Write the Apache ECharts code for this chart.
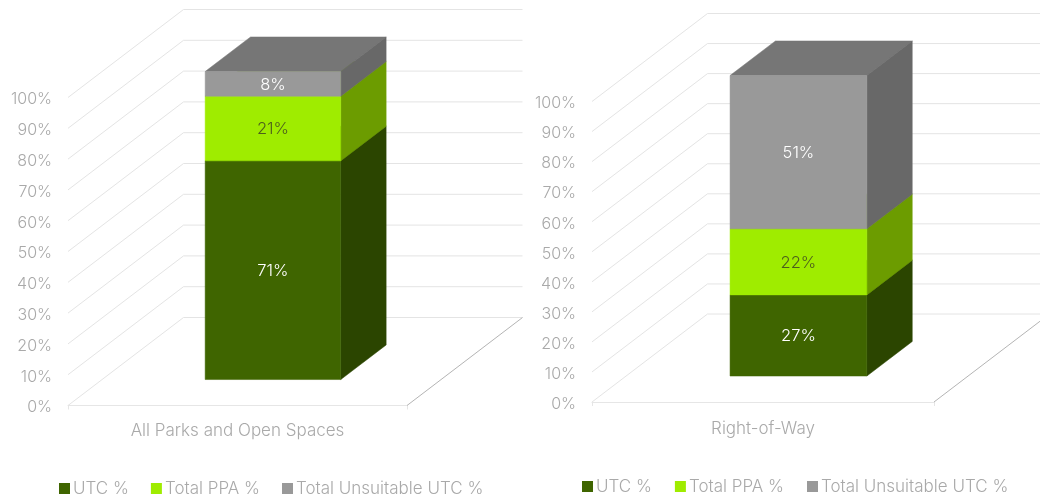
<!DOCTYPE html>
<html>
<head>
<meta charset="utf-8">
<style>
  html, body { margin: 0; padding: 0; background: #fff; }
  #main { width: 1040px; height: 495px; }
</style>
<script src="https://cdn.jsdelivr.net/npm/echarts@6/dist/echarts.min.js"></script>
</head>
<body>
<div id="main"></div>
<script>
const seriesNames = ['UTC %', 'Total PPA %', 'Total Unsuitable UTC %'];
const yTicks = [0, 10, 20, 30, 40, 50, 60, 70, 80, 90, 100];

const leftCategories = ['All Parks and Open Spaces'];
const leftUtc = [71];
const leftPpa = [21];
const leftUnsuitable = [8];

const rightCategories = ['Right-of-Way'];
const rightUtc = [27];
const rightPpa = [22];
const rightUnsuitable = [51];

const fontName = 'Inter, "Open Sans", sans-serif';
const axisColor = '#a9a9a9';

// front, side and top shades of each stack
const shades = [
  { front: '#3f6500', side: '#2b4500', top: '#335200', label: '#ffffff' },
  { front: '#9fec00', side: '#6c9c00', top: '#84c400', label: '#4d5f1c' },
  { front: '#999999', side: '#686868', top: '#767676', label: '#ffffff' }
];

// 3D look: how far the back wall sits from the front of the floor
const wallDx = 115.5;
const wallDy = 88;
const barNearX = 0.307;
const barNearY = 0.295;
const barFar = 0.70;
const barBand = 0.4;

function shift(p, depth) {
  return [p[0] + depth * wallDx, p[1] - depth * wallDy];
}

function barFront(x, y) {
  return [x + barNearX * wallDx, y - barNearY * wallDy];
}

function poly(points, color) {
  return { type: 'polygon', shape: { points: points }, style: { fill: color, stroke: color, lineWidth: 0.5 } };
}

function line(a, b, color) {
  return {
    type: 'line',
    shape: { x1: a[0], y1: a[1], x2: b[0], y2: b[1] },
    style: { stroke: color, lineWidth: 1, fill: null }
  };
}

function renderWall(params, api) {
  const cs = params.coordSys;
  const v = api.value(0);
  const y = api.coord([0, v])[1];
  const a = [cs.x, y];
  const b = shift(a, 1);
  const c = [b[0] + cs.width, b[1]];
  const kids = [line(a, b, '#e4e4e4'), line(b, c, '#e4e4e4')];
  if (v === 0) {
    kids.push(line([cs.x + cs.width, y], c, '#b4b4b4'));
  }
  return { type: 'group', children: kids };
}

function makeRenderBar(stackIndex) {
  const shade = shades[stackIndex];
  return function (params, api) {
    const base = api.value(1);
    const value = api.value(2);
    const center = api.coord([api.value(0), 0])[0];
    const halfWidth = api.size([1, 0])[0] * barBand / 2;
    const y0 = api.coord([0, base])[1];
    const y1 = api.coord([0, base + value])[1];
    const fl = barFront(center - halfWidth, y0);
    const fr = barFront(center + halfWidth, y0);
    const tl = barFront(center - halfWidth, y1);
    const tr = barFront(center + halfWidth, y1);
    const dx = (barFar - barNearX) * wallDx;
    const dy = (barFar - barNearX) * wallDy;
    return {
      type: 'group',
      children: [
        poly([tl, tr, [tr[0] + dx, tr[1] - dy], [tl[0] + dx, tl[1] - dy]], shade.top),
        poly([fr, tr, [tr[0] + dx, tr[1] - dy], [fr[0] + dx, fr[1] - dy]], shade.side),
        poly([fl, fr, tr, tl], shade.front),
        {
          type: 'text',
          style: {
            x: (fl[0] + fr[0]) / 2,
            y: (fl[1] + tl[1]) / 2 + 1,
            text: value + '%',
            align: 'center',
            verticalAlign: 'middle',
            fill: shade.label,
            font: '300 16.5px ' + fontName
          }
        }
      ]
    };
  };
}

function stackData(stacks, stackIndex) {
  let base = 0;
  for (let i = 0; i < stackIndex; i++) base += stacks[i][0];
  return [[0, base, stacks[stackIndex][0]]];
}

function chartSeries(axisIndex, stacks) {
  const list = [{
    type: 'custom',
    silent: true,
    xAxisIndex: axisIndex,
    yAxisIndex: axisIndex,
    z: 1,
    renderItem: renderWall,
    encode: { y: 0 },
    data: yTicks.map(function (t) { return [t]; })
  }];
  seriesNames.forEach(function (name, i) {
    list.push({
      type: 'custom',
      name: name,
      xAxisIndex: axisIndex,
      yAxisIndex: axisIndex,
      z: 2 + i,
      renderItem: makeRenderBar(i),
      itemStyle: { color: shades[i].front },
      encode: { x: 0, y: [1, 2] },
      data: stackData(stacks, i)
    });
  });
  return list;
}

function xAxisFor(gridIndex, categories, margin) {
  return {
    type: 'category',
    gridIndex: gridIndex,
    data: categories,
    axisLine: { show: true, lineStyle: { color: '#e6e6e6', width: 1 } },
    axisTick: { show: true, length: 4, lineStyle: { color: '#e6e6e6' } },
    axisLabel: { color: axisColor, fontFamily: fontName, fontWeight: 300, fontSize: 17, margin: margin }
  };
}

function yAxisFor(gridIndex) {
  return {
    type: 'value',
    gridIndex: gridIndex,
    min: 0,
    max: 100,
    interval: 10,
    axisLine: { show: false },
    axisTick: { show: false },
    splitLine: { show: false },
    axisLabel: {
      color: axisColor,
      fontFamily: fontName,
      fontWeight: 300,
      fontSize: 16,
      margin: 16,
      verticalAlign: 'top',
      lineHeight: 4,
      formatter: '{value}%'
    }
  };
}

function legendFor(left, top, gap) {
  return {
    left: left,
    top: top,
    data: seriesNames,
    icon: 'rect',
    itemWidth: 11,
    itemHeight: 11,
    itemGap: gap,
    selectedMode: false,
    textStyle: { color: axisColor, fontFamily: fontName, fontWeight: 300, fontSize: 17, padding: [0, 0, 0, -2] }
  };
}

const chart = echarts.init(document.getElementById('main'), null, { renderer: 'canvas' });

chart.setOption({
  animation: false,
  backgroundColor: '#ffffff',
  legend: [legendFor(54, 475, 22), legendFor(577, 473, 23)],
  grid: [
    { left: 68, top: 97.5, width: 339, height: 308 },
    { left: 592, top: 101.5, width: 342, height: 300.5 }
  ],
  xAxis: [xAxisFor(0, leftCategories, 17), xAxisFor(1, rightCategories, 18)],
  yAxis: [yAxisFor(0), yAxisFor(1)],
  series: chartSeries(0, [leftUtc, leftPpa, leftUnsuitable])
    .concat(chartSeries(1, [rightUtc, rightPpa, rightUnsuitable]))
});
</script>
</body>
</html>
